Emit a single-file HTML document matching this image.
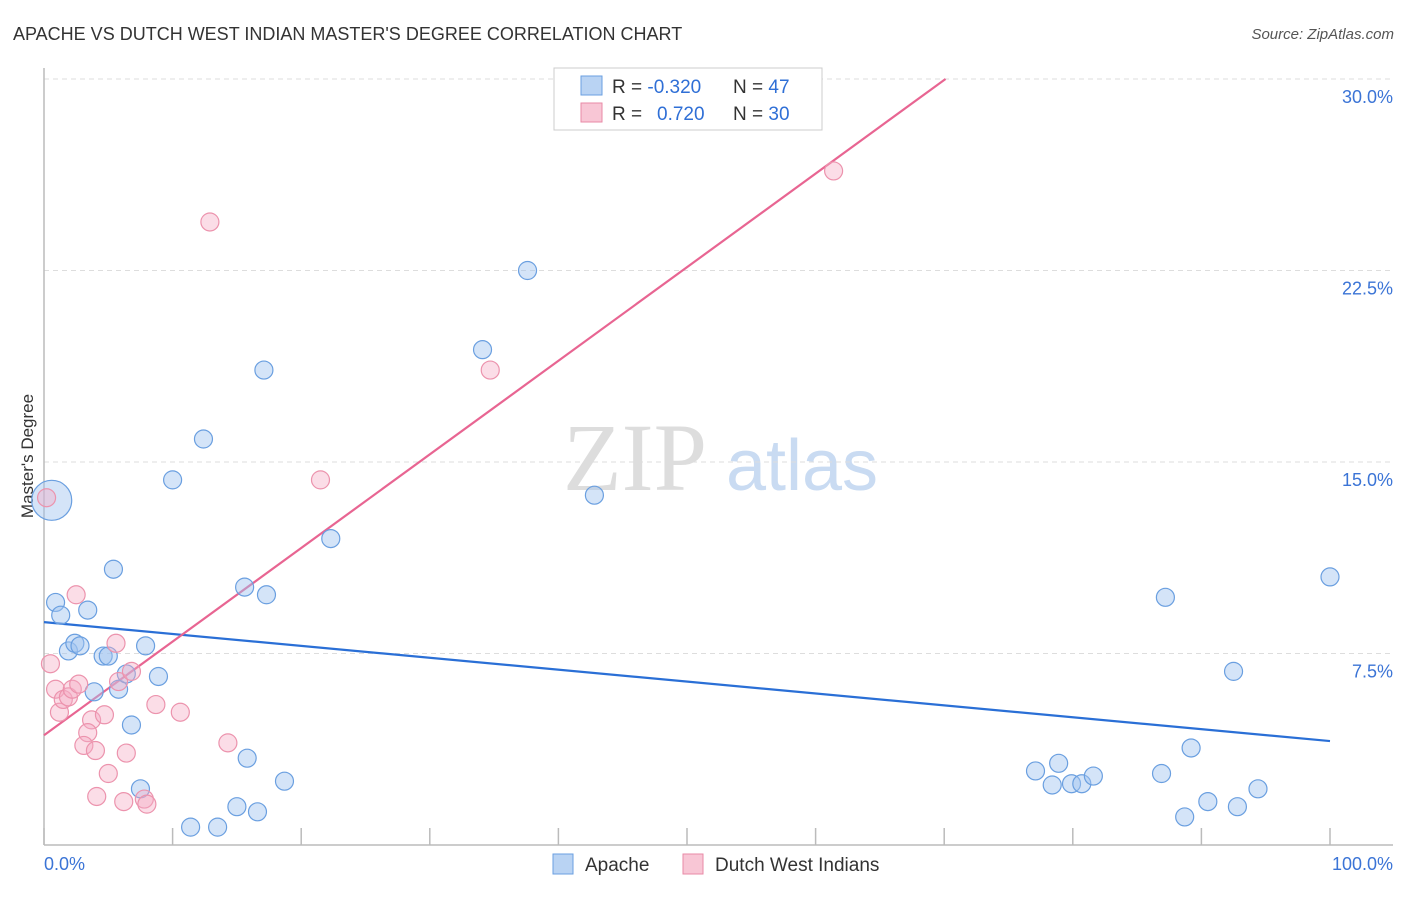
<!DOCTYPE html>
<html><head><meta charset="utf-8"><style>
body{margin:0;background:#fff;font-family:"Liberation Sans",sans-serif}
</style></head><body>
<svg id="chart" width="1406" height="892" viewBox="0 0 1406 892" xmlns="http://www.w3.org/2000/svg" font-family="Liberation Sans, sans-serif">
<text x="13" y="40" font-size="18" fill="#333">APACHE VS DUTCH WEST INDIAN MASTER'S DEGREE CORRELATION CHART</text>
<text x="1394" y="39" font-size="15" fill="#555" font-style="italic" text-anchor="end">Source: ZipAtlas.com</text>
<text transform="translate(33,456) rotate(-90)" font-size="17" fill="#333" text-anchor="middle">Master's Degree</text>
<g>
<text x="635" y="490" font-size="96" font-family="Liberation Serif, serif" fill="#ddd" text-anchor="middle">ZIP</text>
<text x="802" y="490" font-size="72" fill="#c9dbf2" text-anchor="middle">atlas</text>
</g>
<g id="grid"></g><g id="axes"></g><g id="lines"></g><g id="pts"></g>
<g>
<rect x="554" y="68" width="268" height="62" fill="#fff" stroke="#ccc"/>
<rect x="581" y="76" width="21" height="19" fill="#b9d3f3" stroke="#6a9fe0"/>
<rect x="581" y="103" width="21" height="19" fill="#f8c6d5" stroke="#e88aa6"/>
<text x="612" y="93" font-size="19" fill="#333">R = <tspan fill="#2f6fd6">-0.320</tspan><tspan x="733">N = </tspan><tspan fill="#2f6fd6">47</tspan></text>
<text x="612" y="120" font-size="19" fill="#333">R = <tspan x="657" fill="#2f6fd6">0.720</tspan><tspan x="733">N = </tspan><tspan fill="#2f6fd6">30</tspan></text>
</g>
<g>
<rect x="553" y="854" width="20" height="20" fill="#b9d3f3" stroke="#6a9fe0"/>
<text x="585" y="871" font-size="19" fill="#333">Apache</text>
<rect x="683" y="854" width="20" height="20" fill="#f8c6d5" stroke="#e88aa6"/>
<text x="715" y="871" font-size="19" fill="#333">Dutch West Indians</text>
</g>
</svg>
<script>
const yTicks=[7.5,15,22.5,30];
const yTickLabels=["7.5%","15.0%","22.5%","30.0%"];
const xTickLabels=["0.0%","100.0%"];
const apacheX=[0.6,0.9,1.3,3.4,5.4,1.9,2.4,2.8,4.6,5.0,7.9,3.9,5.8,6.4,8.9,6.8,7.5,11.4,13.5,15.0,16.6,15.8,18.7,10.0,12.4,17.1,15.6,17.3,22.3,34.1,37.6,42.8,77.1,78.4,78.9,79.9,80.7,81.6,86.9,87.2,88.7,89.2,90.5,92.8,94.4,92.5,100];
const apacheY=[13.5,9.5,9.0,9.2,10.8,7.6,7.9,7.8,7.4,7.4,7.8,6.0,6.1,6.7,6.6,4.7,2.2,0.7,0.7,1.5,1.3,3.4,2.5,14.3,15.9,18.6,10.1,9.8,12.0,19.4,22.5,13.7,2.9,2.35,3.2,2.4,2.4,2.7,2.8,9.7,1.1,3.8,1.7,1.5,2.2,6.8,10.5];
const dutchX=[0.2,0.5,0.9,1.2,1.5,1.9,2.2,2.7,2.5,3.7,3.4,3.1,4.0,4.7,5.0,4.1,5.6,5.8,6.8,6.4,6.2,7.8,8.0,8.7,10.6,14.3,12.9,21.5,34.7,61.4];
const dutchY=[13.6,7.1,6.1,5.2,5.7,5.8,6.1,6.3,9.8,4.9,4.4,3.9,3.7,5.1,2.8,1.9,7.9,6.4,6.8,3.6,1.7,1.8,1.6,5.5,5.2,4.0,24.4,14.3,18.6,26.4];
const apacheTrend=[8.73,4.07];
const dutchTrend=[4.3,0.3666];
const NS="http://www.w3.org/2000/svg";
const X0=44,X1=1330,Y0=845,YT=79;
const sx=v=>X0+(X1-X0)*v/100, sy=v=>Y0-(Y0-YT)*v/30;
function mk(tag,attrs,parent){const e=document.createElementNS(NS,tag);for(const k in attrs)e.setAttribute(k,attrs[k]);document.getElementById(parent).appendChild(e);return e;}
yTicks.forEach((t,i)=>{
 const g=mk('line',{x1:X0,x2:1393,y1:sy(t),y2:sy(t),stroke:'#ddd','stroke-dasharray':'5,4'},'grid');
 
 
 const l=mk('text',{x:1393,y:sy(t)+24,'font-size':18,fill:'#3b74d6','text-anchor':'end'},'grid');l.textContent=yTickLabels[i];
 
 
});
const ax=mk('line',{x1:X0,x2:1393,y1:Y0,y2:Y0,stroke:'#bbb','stroke-width':1.5},'axes');


const ay=mk('line',{x1:X0,x2:X0,y1:68,y2:Y0,stroke:'#bbb','stroke-width':1.5},'axes');


for(let i=0;i<=10;i++){const t=mk('line',{x1:sx(i*10),x2:sx(i*10),y1:828,y2:Y0,stroke:'#bbb','stroke-width':1.5},'axes');
 
 }
const xl0=mk('text',{x:44,y:870,'font-size':18,fill:'#3b74d6'},'axes');xl0.textContent=xTickLabels[0];


const xl1=mk('text',{x:1393,y:870,'font-size':18,fill:'#3b74d6','text-anchor':'end'},'axes');xl1.textContent=xTickLabels[1];


apacheX.forEach((x,i)=>{const c=mk('circle',{cx:sx(x),cy:sy(apacheY[i]),r:i===0?20:9,fill:'rgba(160,195,240,0.45)',stroke:'#6a9fe0','stroke-width':1.2},'pts');
 
 });
dutchX.forEach((x,i)=>{const c=mk('circle',{cx:sx(x),cy:sy(dutchY[i]),r:9,fill:'rgba(244,170,195,0.4)',stroke:'#ec93ad','stroke-width':1.2},'pts');
 
 });
const bl=mk('line',{x1:sx(0),y1:sy(apacheTrend[0]),x2:sx(100),y2:sy(apacheTrend[1]),stroke:'#2a6fd6','stroke-width':2.2},'lines');


const xEnd=Math.min(100,(30-dutchTrend[0])/dutchTrend[1]);
const pl=mk('line',{x1:sx(0),y1:sy(dutchTrend[0]),x2:sx(xEnd),y2:sy(dutchTrend[0]+dutchTrend[1]*xEnd),stroke:'#e86592','stroke-width':2.2},'lines');


</script>
</body></html>
